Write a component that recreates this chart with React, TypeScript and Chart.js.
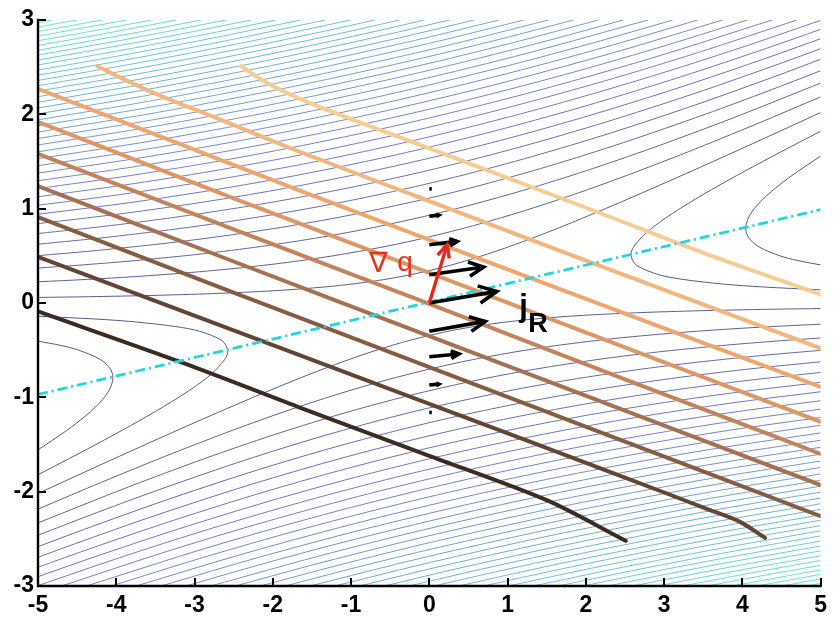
import React, { useEffect, useRef } from 'react';
import { Chart, registerables } from 'chart.js';

Chart.register(...registerables);

// ---- axes ----
const xTickValues = [-5, -4, -3, -2, -1, 0, 1, 2, 3, 4, 5];
const yTickValues = [-3, -2, -1, 0, 1, 2, 3];

// ---- thin contours of the potential ----
// closed-off arms around the two wells (lowest levels)
const saddleLevels = [-0.628, -0.255];
const saddleArmsRight = [
  [[5, 0.404], [4.708, 0.45], [4.48, 0.5], [4.201, 0.6], [4.074, 0.7], [4.043, 0.792], [4.076, 0.9], [4.153, 1], [4.263, 1.1], [4.396, 1.2], [4.631, 1.35], [5, 1.557]],
  [[5, 0.14], [4.26, 0.17], [3.763, 0.2], [3.24, 0.25], [2.934, 0.3], [2.647, 0.4], [2.576, 0.505], [2.615, 0.6], [2.781, 0.75], [3.019, 0.9], [3.397, 1.1], [3.817, 1.3], [4.26, 1.5], [4.719, 1.7], [5, 1.82]],
];
const saddleArmsLeft = [
  [[-5, -0.404], [-4.708, -0.45], [-4.48, -0.5], [-4.201, -0.6], [-4.074, -0.7], [-4.043, -0.792], [-4.076, -0.9], [-4.153, -1], [-4.263, -1.1], [-4.396, -1.2], [-4.631, -1.35], [-5, -1.557]],
  [[-5, -0.14], [-4.26, -0.17], [-3.763, -0.2], [-3.24, -0.25], [-2.934, -0.3], [-2.647, -0.4], [-2.576, -0.505], [-2.615, -0.6], [-2.781, -0.75], [-3.019, -0.9], [-3.397, -1.1], [-3.817, -1.3], [-4.26, -1.5], [-4.719, -1.7], [-5, -1.82]],
];

// levels that run across the plane, above and below the valley
const crossLevels = [
  0.118, 0.491, 0.864, 1.237, 1.61, 1.983, 2.356, 2.729, 3.102, 3.475,
  3.848, 4.221, 4.594, 4.967, 5.34, 5.713, 6.086, 6.459, 6.832, 7.205,
  7.578, 7.951, 8.324, 8.697, 9.07, 9.443, 9.816, 10.189, 10.562, 10.935,
  11.308, 11.681, 12.054, 12.427, 12.8, 13.173, 13.546, 13.919, 14.292, 14.665,
];

const upperBranches = [
  [[-5, 0.059], [-4.465, 0.065], [-3.559, 0.08], [-2.755, 0.1], [-1.984, 0.13], [-1.337, 0.17], [-0.807, 0.22], [-0.361, 0.28], [0, 0.344], [0.355, 0.42], [0.748, 0.52], [1.195, 0.65], [1.665, 0.8], [2.25, 1], [2.948, 1.25], [3.626, 1.5], [4.292, 1.75], [5, 2.019]],
  [[-5, 0.225], [-4.372, 0.25], [-3.759, 0.28], [-3.098, 0.32], [-2.441, 0.37], [-1.816, 0.43], [-1.23, 0.5], [-0.557, 0.6], [0, 0.701], [0.564, 0.82], [1.183, 0.97], [1.845, 1.15], [2.516, 1.35], [3.299, 1.6], [4.188, 1.9], [5, 2.185]],
  [[-5, 0.371], [-4.49, 0.4], [-3.75, 0.45], [-2.912, 0.52], [-2.143, 0.6], [-1.363, 0.7], [-0.714, 0.8], [0, 0.93], [0.579, 1.05], [1.224, 1.2], [1.997, 1.4], [2.873, 1.65], [3.844, 1.95], [5, 2.331]],
  [[-5, 0.502], [-4.334, 0.55], [-3.508, 0.62], [-2.722, 0.7], [-1.904, 0.8], [-1.083, 0.92], [0, 1.112], [0.664, 1.25], [1.523, 1.45], [2.48, 1.7], [3.524, 2], [4.337, 2.25], [5, 2.462]],
  [[-5, 0.623], [-4.082, 0.7], [-3.093, 0.8], [-2.117, 0.92], [-1.233, 1.05], [-0.361, 1.2], [0.402, 1.35], [1.304, 1.55], [2.31, 1.8], [3.401, 2.1], [4.411, 2.4], [5, 2.583]],
  [[-5, 0.736], [-4.077, 0.82], [-3.067, 0.93], [-2.068, 1.06], [-1.154, 1.2], [-0.303, 1.35], [0.454, 1.5], [1.361, 1.7], [2.38, 1.95], [3.492, 2.25], [4.521, 2.55], [5, 2.696]],
  [[-5, 0.841], [-3.903, 0.95], [-2.887, 1.07], [-1.947, 1.2], [-1.008, 1.35], [0, 1.535], [1.03, 1.75], [2.097, 2], [3.254, 2.3], [4.321, 2.6], [5, 2.801]],
  [[-5, 0.941], [-3.952, 1.05], [-2.89, 1.18], [-1.842, 1.33], [-0.815, 1.5], [0, 1.652], [0.956, 1.85], [2.042, 2.1], [3.222, 2.4], [4.309, 2.7], [5, 2.901]],
  [[-5, 1.036], [-3.947, 1.15], [-2.771, 1.3], [-1.633, 1.47], [-0.587, 1.65], [0.442, 1.85], [1.589, 2.1], [2.825, 2.4], [3.957, 2.7], [5, 2.996]],
  [[-5, 1.126], [-3.903, 1.25], [-2.761, 1.4], [-1.58, 1.58], [-0.333, 1.8], [0.905, 2.05], [2.223, 2.35], [3.415, 2.65], [4.698, 3]],
  [[-5, 1.213], [-3.827, 1.35], [-2.581, 1.52], [-1.319, 1.72], [-0.008, 1.96], [1.377, 2.25], [2.857, 2.6], [4.381, 3]],
  [[-5, 1.296], [-3.727, 1.45], [-2.448, 1.63], [-1.101, 1.85], [0.23, 2.1], [1.636, 2.4], [2.9, 2.7], [4.064, 3]],
  [[-5, 1.377], [-3.607, 1.55], [-2.233, 1.75], [-0.758, 2], [0.772, 2.3], [2.338, 2.65], [3.747, 3]],
  [[-5, 1.455], [-3.616, 1.63], [-2.13, 1.85], [-0.677, 2.1], [0.843, 2.4], [2.195, 2.7], [3.429, 3]],
  [[-5, 1.53], [-3.532, 1.72], [-2.011, 1.95], [-0.58, 2.2], [0.929, 2.5], [2.062, 2.75], [3.112, 3]],
  [[-5, 1.603], [-3.505, 1.8], [-1.88, 2.05], [-0.207, 2.35], [1.261, 2.65], [2.795, 3]],
  [[-5, 1.675], [-3.462, 1.88], [-1.736, 2.15], [-0.087, 2.45], [1.37, 2.75], [2.478, 3]],
  [[-5, 1.744], [-3.475, 1.95], [-1.877, 2.2], [-0.213, 2.5], [1.024, 2.75], [2.161, 3]],
  [[-5, 1.812], [-3.475, 2.02], [-1.71, 2.3], [-0.071, 2.6], [0.918, 2.8], [1.844, 3]],
  [[-5, 1.878], [-3.395, 2.1], [-1.536, 2.4], [0.08, 2.7], [1.526, 3]],
  [[-5, 1.942], [-3.507, 2.15], [-1.64, 2.45], [-0.014, 2.75], [1.209, 3]],
  [[-5, 2.005], [-3.473, 2.22], [-1.736, 2.5], [-0.204, 2.78], [0.892, 3]],
  [[-5, 2.067], [-3.497, 2.28], [-1.822, 2.55], [-0.441, 2.8], [0.575, 3]],
  [[-5, 2.128], [-3.446, 2.35], [-1.901, 2.6], [-0.674, 2.82], [0.258, 3]],
  [[-5, 2.187], [-3.518, 2.4], [-1.971, 2.65], [-0.848, 2.85], [-0.06, 3]],
  [[-5, 2.246], [-3.582, 2.45], [-2.034, 2.7], [-1.072, 2.87], [-0.377, 3]],
  [[-5, 2.303], [-3.639, 2.5], [-2.267, 2.72], [-1.348, 2.88], [-0.694, 3]],
  [[-5, 2.359], [-3.688, 2.55], [-2.436, 2.75], [-1.565, 2.9], [-1.011, 3]],
  [[-5, 2.415], [-3.73, 2.6], [-2.48, 2.8], [-1.328, 3]],
  [[-5, 2.469], [-3.766, 2.65], [-2.638, 2.83], [-1.646, 3]],
  [[-5, 2.523], [-3.796, 2.7], [-2.79, 2.86], [-1.963, 3]],
  [[-5, 2.576], [-3.82, 2.75], [-3, 2.88], [-2.28, 3]],
  [[-5, 2.628], [-3.839, 2.8], [-2.597, 3]],
  [[-5, 2.679], [-3.918, 2.84], [-2.914, 3]],
  [[-5, 2.73], [-4.056, 2.87], [-3.231, 3]],
  [[-5, 2.78], [-4.19, 2.9], [-3.549, 3]],
  [[-5, 2.829], [-3.866, 3]],
  [[-5, 2.877], [-4.183, 3]],
  [[-5, 2.926], [-4.5, 3]],
  [[-5, 2.973], [-4.817, 3]],
];

const lowerBranches = [
  [[5, -0.059], [4.465, -0.065], [3.559, -0.08], [2.755, -0.1], [1.984, -0.13], [1.337, -0.17], [0.807, -0.22], [0.361, -0.28], [0, -0.344], [-0.355, -0.42], [-0.748, -0.52], [-1.195, -0.65], [-1.665, -0.8], [-2.25, -1], [-2.948, -1.25], [-3.626, -1.5], [-4.292, -1.75], [-5, -2.019]],
  [[5, -0.225], [4.372, -0.25], [3.759, -0.28], [3.098, -0.32], [2.441, -0.37], [1.816, -0.43], [1.23, -0.5], [0.557, -0.6], [0, -0.701], [-0.564, -0.82], [-1.183, -0.97], [-1.845, -1.15], [-2.516, -1.35], [-3.299, -1.6], [-4.188, -1.9], [-5, -2.185]],
  [[5, -0.371], [4.49, -0.4], [3.75, -0.45], [2.912, -0.52], [2.143, -0.6], [1.363, -0.7], [0.714, -0.8], [0, -0.93], [-0.579, -1.05], [-1.224, -1.2], [-1.997, -1.4], [-2.873, -1.65], [-3.844, -1.95], [-5, -2.331]],
  [[5, -0.502], [4.334, -0.55], [3.508, -0.62], [2.722, -0.7], [1.904, -0.8], [1.083, -0.92], [0, -1.112], [-0.664, -1.25], [-1.523, -1.45], [-2.48, -1.7], [-3.524, -2], [-4.337, -2.25], [-5, -2.462]],
  [[5, -0.623], [4.082, -0.7], [3.093, -0.8], [2.117, -0.92], [1.233, -1.05], [0.361, -1.2], [-0.402, -1.35], [-1.304, -1.55], [-2.31, -1.8], [-3.401, -2.1], [-4.411, -2.4], [-5, -2.583]],
  [[5, -0.736], [4.077, -0.82], [3.067, -0.93], [2.068, -1.06], [1.154, -1.2], [0.303, -1.35], [-0.454, -1.5], [-1.361, -1.7], [-2.38, -1.95], [-3.492, -2.25], [-4.521, -2.55], [-5, -2.696]],
  [[5, -0.841], [3.903, -0.95], [2.887, -1.07], [1.947, -1.2], [1.008, -1.35], [0, -1.535], [-1.03, -1.75], [-2.097, -2], [-3.254, -2.3], [-4.321, -2.6], [-5, -2.801]],
  [[5, -0.941], [3.952, -1.05], [2.89, -1.18], [1.842, -1.33], [0.815, -1.5], [0, -1.652], [-0.956, -1.85], [-2.042, -2.1], [-3.222, -2.4], [-4.309, -2.7], [-5, -2.901]],
  [[5, -1.036], [3.947, -1.15], [2.771, -1.3], [1.633, -1.47], [0.587, -1.65], [-0.442, -1.85], [-1.589, -2.1], [-2.825, -2.4], [-3.957, -2.7], [-5, -2.996]],
  [[5, -1.126], [3.903, -1.25], [2.761, -1.4], [1.58, -1.58], [0.333, -1.8], [-0.905, -2.05], [-2.223, -2.35], [-3.415, -2.65], [-4.698, -3]],
  [[5, -1.213], [3.827, -1.35], [2.581, -1.52], [1.319, -1.72], [0.008, -1.96], [-1.377, -2.25], [-2.857, -2.6], [-4.381, -3]],
  [[5, -1.296], [3.727, -1.45], [2.448, -1.63], [1.101, -1.85], [-0.23, -2.1], [-1.636, -2.4], [-2.9, -2.7], [-4.064, -3]],
  [[5, -1.377], [3.607, -1.55], [2.233, -1.75], [0.758, -2], [-0.772, -2.3], [-2.338, -2.65], [-3.747, -3]],
  [[5, -1.455], [3.616, -1.63], [2.13, -1.85], [0.677, -2.1], [-0.843, -2.4], [-2.195, -2.7], [-3.429, -3]],
  [[5, -1.53], [3.532, -1.72], [2.011, -1.95], [0.58, -2.2], [-0.929, -2.5], [-2.062, -2.75], [-3.112, -3]],
  [[5, -1.603], [3.505, -1.8], [1.88, -2.05], [0.207, -2.35], [-1.261, -2.65], [-2.795, -3]],
  [[5, -1.675], [3.462, -1.88], [1.736, -2.15], [0.087, -2.45], [-1.37, -2.75], [-2.478, -3]],
  [[5, -1.744], [3.475, -1.95], [1.877, -2.2], [0.213, -2.5], [-1.024, -2.75], [-2.161, -3]],
  [[5, -1.812], [3.475, -2.02], [1.71, -2.3], [0.071, -2.6], [-0.918, -2.8], [-1.844, -3]],
  [[5, -1.878], [3.395, -2.1], [1.536, -2.4], [-0.08, -2.7], [-1.526, -3]],
  [[5, -1.942], [3.507, -2.15], [1.64, -2.45], [0.014, -2.75], [-1.209, -3]],
  [[5, -2.005], [3.473, -2.22], [1.736, -2.5], [0.204, -2.78], [-0.892, -3]],
  [[5, -2.067], [3.497, -2.28], [1.822, -2.55], [0.441, -2.8], [-0.575, -3]],
  [[5, -2.128], [3.446, -2.35], [1.901, -2.6], [0.674, -2.82], [-0.258, -3]],
  [[5, -2.187], [3.518, -2.4], [1.971, -2.65], [0.848, -2.85], [0.06, -3]],
  [[5, -2.246], [3.582, -2.45], [2.034, -2.7], [1.072, -2.87], [0.377, -3]],
  [[5, -2.303], [3.639, -2.5], [2.267, -2.72], [1.348, -2.88], [0.694, -3]],
  [[5, -2.359], [3.688, -2.55], [2.436, -2.75], [1.565, -2.9], [1.011, -3]],
  [[5, -2.415], [3.73, -2.6], [2.48, -2.8], [1.328, -3]],
  [[5, -2.469], [3.766, -2.65], [2.638, -2.83], [1.646, -3]],
  [[5, -2.523], [3.796, -2.7], [2.79, -2.86], [1.963, -3]],
  [[5, -2.576], [3.82, -2.75], [3, -2.88], [2.28, -3]],
  [[5, -2.628], [3.839, -2.8], [2.597, -3]],
  [[5, -2.679], [3.918, -2.84], [2.914, -3]],
  [[5, -2.73], [4.056, -2.87], [3.231, -3]],
  [[5, -2.78], [4.19, -2.9], [3.549, -3]],
  [[5, -2.829], [3.866, -3]],
  [[5, -2.877], [4.183, -3]],
  [[5, -2.926], [4.5, -3]],
  [[5, -2.973], [4.817, -3]],
];

// ---- iso-committor curves, dark (q small) to light (q large) ----
const committorColors = ['#3b2b22', '#624634', '#875d42', '#a67150', '#c4845b', '#dc9766', '#eea66f', '#f3b67e', '#f7cc92'];
const committorCurves = [
  [[-5, -0.09], [-3.2, -0.62], [-1.68, -1.1], [0, -1.62], [1.5, -2.09], [2.51, -2.52]],
  [[-5, 0.49], [-2.5, -0.29], [0, -1.07], [2.5, -1.85], [3.57, -2.19], [3.97, -2.32], [4.29, -2.49]],
  [[-5, 0.91], [-2.5, 0.11], [0, -0.68], [2.5, -1.47], [5, -2.26]],
  [[-5, 1.24], [-2.5, 0.44], [0, -0.35], [2.5, -1.14], [5, -1.93]],
  [[-5, 1.58], [-2.5, 0.78], [0, -0.01], [2.5, -0.81], [5, -1.6]],
  [[-5, 1.92], [-2.5, 1.11], [0, 0.32], [2.5, -0.47], [5, -1.26]],
  [[-5, 2.27], [-1.68, 1.2], [1.5, 0.2], [5, -0.89]],
  [[-4.24, 2.51], [-3.9, 2.37], [-3.5, 2.22], [-2.6, 1.92], [-1.68, 1.61], [0, 1.08], [2.13, 0.41], [5, -0.48]],
  [[-2.4, 2.51], [-2.15, 2.37], [-1.85, 2.24], [-1.5, 2.11], [-1, 1.95], [0, 1.64], [2.13, 0.97], [3.57, 0.51], [5, 0.09]],
];

// ---- valley axis (dash-dot) ----
const valleyAxis = [[-5, -0.97], [5, 0.99]];

// ---- reactive current j_R sampled along x = 0 ----
const currentBaseY = [1.21, 0.92, 0.618, 0.3, 0, -0.3, -0.57, -0.87, -1.16];
const currentU = [0.02, 0.12, 0.355, 0.694, 0.863, 0.715, 0.38, 0.12, 0.02];
const currentV = [0, 0.01, 0.035, 0.082, 0.123, 0.105, 0.03, 0.01, 0];

// ---- committor gradient at the origin ----
const gradQBase = [0, 0];
const gradQTip = [0.228, 0.618];

// label anchors (data units)
const gradLabelAt = [-0.77, 0.33];
const qLabelAt = [-0.41, 0.34];
const jLabelAt = [1.15, -0.142];
const rLabelAt = [1.265, -0.304];

const TICK_FONT = '"Liberation Sans", Arial, Helvetica, sans-serif';

function levelColor(c: number): string {
  const stops: [number, number[]][] = [
    [-0.63, [86, 88, 124]],
    [3.2, [116, 126, 198]],
    [8.5, [116, 176, 208]],
    [14.7, [104, 232, 218]],
  ];
  for (let i = 0; i < stops.length - 1; i++) {
    const [c0, a] = stops[i];
    const [c1, b] = stops[i + 1];
    if (c <= c1 || i === stops.length - 2) {
      const t = Math.max(0, Math.min(1, (c - c0) / (c1 - c0)));
      const m = a.map((v, k) => Math.round(v + (b[k] - v) * t));
      return `rgb(${m[0]},${m[1]},${m[2]})`;
    }
  }
  return '#000';
}

const toXY = (pts: number[][]) => pts.map(([x, y]) => ({ x, y }));

function drawArrow(ctx: CanvasRenderingContext2D, x0: number, y0: number, x1: number, y1: number, head: number, color: string, width: number) {
  let dx = x1 - x0;
  let dy = y1 - y0;
  const len = Math.hypot(dx, dy);
  if (len < 2.5) {
    x1 = x0 + 2.5;
    y1 = y0;
    dx = 2.5;
    dy = 0;
  }
  ctx.strokeStyle = color;
  ctx.lineWidth = width;
  ctx.lineCap = 'butt';
  ctx.lineJoin = 'miter';
  ctx.beginPath();
  ctx.moveTo(x0, y0);
  ctx.lineTo(x1, y1);
  ctx.stroke();
  if (head > 1.5) {
    const ang = Math.atan2(dy, dx);
    const spread = 0.45;
    ctx.beginPath();
    ctx.moveTo(x1 - head * Math.cos(ang - spread), y1 - head * Math.sin(ang - spread));
    ctx.lineTo(x1, y1);
    ctx.lineTo(x1 - head * Math.cos(ang + spread), y1 - head * Math.sin(ang + spread));
    ctx.stroke();
  }
}

const overlayPlugin = {
  id: 'overlay',
  afterDatasetsDraw(chart: any) {
    const { ctx, chartArea: a } = chart;
    const xs = chart.scales.x;
    const ys = chart.scales.y;
    const px = (v: number) => xs.getPixelForValue(v);
    const py = (v: number) => ys.getPixelForValue(v);
    ctx.save();

    // reactive current
    currentBaseY.forEach((y0, i) => {
      const x0p = px(0);
      const y0p = py(y0);
      const x1p = px(currentU[i]);
      const y1p = py(y0 + currentV[i]);
      const len = Math.hypot(x1p - x0p, y1p - y0p);
      drawArrow(ctx, x0p, y0p, x1p, y1p, Math.min(20, len * 0.3), '#000', 3.6);
    });

    // gradient of q
    drawArrow(ctx, px(gradQBase[0]), py(gradQBase[1]), px(gradQTip[0]), py(gradQTip[1]), 14, '#e8261c', 3.4);

    // labels
    ctx.textBaseline = 'alphabetic';
    ctx.textAlign = 'left';
    ctx.fillStyle = '#e8321e';
    ctx.font = '28px "DejaVu Sans", sans-serif';
    ctx.fillText('\u2207', px(gradLabelAt[0]), py(gradLabelAt[1]));
    ctx.font = `28px ${TICK_FONT}`;
    ctx.fillText('q', px(qLabelAt[0]), py(qLabelAt[1]));
    ctx.fillStyle = '#000';
    ctx.font = `bold 31px ${TICK_FONT}`;
    ctx.fillText('j', px(jLabelAt[0]), py(jLabelAt[1]));
    ctx.font = `bold 27px ${TICK_FONT}`;
    ctx.fillText('R', px(rLabelAt[0]), py(rLabelAt[1]));

    // axes with inward ticks
    ctx.strokeStyle = '#000';
    ctx.lineWidth = 2.4;
    ctx.lineCap = 'square';
    ctx.beginPath();
    ctx.moveTo(a.left, a.top);
    ctx.lineTo(a.left, a.bottom);
    ctx.lineTo(a.right, a.bottom);
    ctx.stroke();
    ctx.lineCap = 'butt';
    ctx.lineWidth = 2;
    ctx.beginPath();
    xTickValues.forEach((v) => {
      const x = Math.round(px(v));
      ctx.moveTo(x, a.bottom);
      ctx.lineTo(x, a.bottom - 8);
    });
    yTickValues.forEach((v) => {
      const y = Math.round(py(v));
      ctx.moveTo(a.left, y);
      ctx.lineTo(a.left + 8, y);
    });
    ctx.stroke();
    ctx.restore();
  },
};

export default function App() {
  const ref = useRef<HTMLCanvasElement>(null);

  useEffect(() => {
    const canvas = ref.current;
    if (!canvas) return;

    const datasets: any[] = [];
    const thin = (pts: number[][], level: number) => ({
      data: toXY(pts),
      showLine: true,
      pointRadius: 0,
      borderColor: levelColor(level),
      borderWidth: 1,
      tension: 0.3,
      order: 3,
    });
    saddleLevels.forEach((lv, i) => {
      datasets.push(thin(saddleArmsRight[i], lv));
      datasets.push(thin(saddleArmsLeft[i], lv));
    });
    crossLevels.forEach((lv, i) => {
      datasets.push(thin(upperBranches[i], lv));
      datasets.push(thin(lowerBranches[i], lv));
    });
    committorCurves.forEach((pts, i) => {
      datasets.push({
        data: toXY(pts),
        showLine: true,
        pointRadius: 0,
        borderColor: committorColors[i],
        borderWidth: 4,
        borderCapStyle: 'round',
        tension: 0.3,
        order: 2,
      });
    });
    datasets.push({
      data: toXY(valleyAxis),
      showLine: true,
      pointRadius: 0,
      borderColor: '#22d6e0',
      borderWidth: 2.8,
      borderDash: [10, 4, 2, 4],
      order: 1,
    });

    const chart = new Chart(canvas, {
      type: 'scatter',
      data: { datasets },
      options: {
        animation: false,
        responsive: false,
        devicePixelRatio: 1,
        events: [],
        layout: { padding: { top: 20, right: 7, left: 0, bottom: 0 } },
        plugins: { legend: { display: false }, tooltip: { enabled: false } },
        scales: {
          x: {
            type: 'linear',
            min: -5,
            max: 5,
            afterFit: (s: any) => { s.height = 37; },
            afterBuildTicks: (s: any) => { s.ticks = xTickValues.map((value) => ({ value })); },
            grid: { display: false, drawTicks: false },
            border: { display: false },
            ticks: {
              padding: 6,
              color: '#000',
              maxRotation: 0,
              autoSkip: false,
              font: { family: TICK_FONT, size: 23, weight: 'bold' },
              callback: (v: any) => String(v),
            },
          },
          y: {
            type: 'linear',
            min: -3,
            max: 3,
            afterFit: (s: any) => { s.width = 38; },
            afterBuildTicks: (s: any) => { s.ticks = yTickValues.map((value) => ({ value })); },
            grid: { display: false, drawTicks: false },
            border: { display: false },
            ticks: {
              padding: 4,
              color: '#000',
              autoSkip: false,
              font: { family: TICK_FONT, size: 23, weight: 'bold' },
              callback: (v: any) => String(v),
            },
          },
        },
      },
      plugins: [overlayPlugin],
    });

    return () => chart.destroy();
  }, []);

  return (
    <div style={{ position: 'absolute', left: 0, top: 0, width: 833, height: 623, background: '#fff' }}>
      <canvas ref={ref} width={833} height={623} style={{ display: 'block', width: 833, height: 623 }} />
    </div>
  );
}
